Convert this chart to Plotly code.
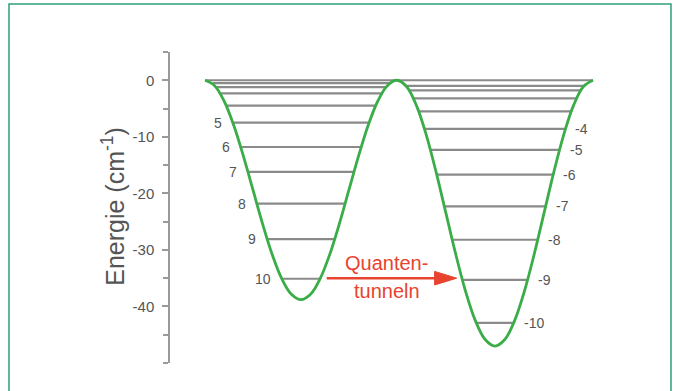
import plotly.graph_objects as go

# ---------------- data ----------------
# torsion coordinate (arbitrary units) and potential energy (cm^-1)
curve_x = [0, 8.9, 17.8, 26.7, 35.6, 44.5, 53.4, 62.3, 71.2, 80.1, 89.0, 97.9, 106.8, 115.7,
           124.6, 133.5, 142.4, 151.3, 160.2, 169.1, 178.0,
           187.1, 196.2, 205.3, 214.4, 223.5, 232.6, 241.7, 250.8, 259.9, 269.0, 278.1, 287.2,
           296.3, 305.4, 314.5, 323.6, 332.7, 341.8, 350.9, 360.0]
curve_e = [0, -0.95, -3.71, -8.00, -13.41, -19.40, -25.39, -30.80, -35.09, -37.85, -38.80,
           -37.85, -35.09, -30.80, -25.39, -19.40, -13.41, -8.00, -3.71, -0.95, 0,
           -1.15, -4.49, -9.69, -16.24, -23.50, -30.76, -37.31, -42.51, -45.85, -47.00,
           -45.85, -42.51, -37.31, -30.76, -23.50, -16.24, -9.69, -4.49, -1.15, 0]

left_levels_e = [0, -0.5, -1.2, -2.3, -4.5, -7.5, -11.8, -16.2, -21.8, -28.1, -35.1]
left_levels_x0 = [0, 7.1, 10.4, 14.2, 19.9, 26.2, 33.2, 40.0, 48.2, 57.9, 71.5]
left_levels_x1 = [178, 170.9, 167.6, 163.8, 158.1, 151.8, 144.8, 138.0, 129.8, 120.1, 106.5]
left_labels = ["", "", "", "", "", "5", "6", "7", "8", "9", "10"]

right_levels_e = [0, -1.0, -1.8, -3.2, -5.5, -8.6, -12.3, -16.7, -22.3, -28.2, -35.3, -42.9]
right_levels_x0 = [178, 186.5, 189.4, 193.3, 198.2, 203.6, 209.1, 215.0, 222.0, 229.3, 238.7, 251.6]
right_levels_x1 = [360, 351.5, 348.6, 344.7, 339.8, 334.4, 328.9, 323.0, 316.0, 308.7, 299.3, 286.4]
right_labels = ["", "", "", "", "", "-4", "-5", "-6", "-7", "-8", "-9", "-10"]

ytick_vals = [0, -10, -20, -30, -40]
ytick_text = ["0", "-10", "-20", "-30", "-40"]

# ---------------- figure ----------------
GREEN = "#3aad48"
GREY = "#8a8a8a"
RED = "#e8432e"
TXT = "#555555"

fig = go.Figure()

lx, ly = [], []
for e, a, b in zip(left_levels_e + right_levels_e,
                   left_levels_x0 + right_levels_x0,
                   left_levels_x1 + right_levels_x1):
    lx += [a, b, None]
    ly += [e, e, None]
fig.add_trace(go.Scatter(x=lx, y=ly, mode="lines",
                         line=dict(color=GREY, width=2.2), hoverinfo="skip"))

fig.add_trace(go.Scatter(x=curve_x, y=curve_e, mode="lines",
                         line=dict(color=GREEN, width=2.8, shape="spline"),
                         hoverinfo="skip"))

ann = []
for e, a, t in zip(left_levels_e, left_levels_x0, left_labels):
    if t:
        ann.append(dict(x=a, y=e, xref="x", yref="y", text=t, showarrow=False,
                        xanchor="right", yanchor="middle", xshift=-9,
                        font=dict(family="Liberation Sans, Arial", size=14, color=TXT)))
for e, b, t in zip(right_levels_e, right_levels_x1, right_labels):
    if t:
        ann.append(dict(x=b, y=e, xref="x", yref="y", text=t, showarrow=False,
                        xanchor="left", yanchor="middle", xshift=8,
                        font=dict(family="Liberation Sans, Arial", size=14, color=TXT)))

# tunnelling text
ann.append(dict(x=168.6, y=-32.3, xref="x", yref="y", text="Quanten-", showarrow=False,
                xanchor="center", yanchor="middle",
                font=dict(family="Liberation Sans, Arial", size=20, color=RED)))
ann.append(dict(x=168.6, y=-37.3, xref="x", yref="y", text="tunneln", showarrow=False,
                xanchor="center", yanchor="middle",
                font=dict(family="Liberation Sans, Arial", size=20, color=RED)))

# axis title
ann.append(dict(x=-0.1267, y=-22.2, xref="paper", yref="y",
                text="Energie (cm<sup>-1</sup>)", showarrow=False, textangle=-90,
                xanchor="center", yanchor="middle",
                font=dict(family="Liberation Sans, Arial", size=25, color=TXT)))

# tunnelling arrow (shaft + filled head)
arrow_y = -35.0
tail_x, head_base_x, tip_x = 112.9, 213.0, 233.5
half_h = 1.2
shapes = [
    dict(type="rect", xref="paper", yref="paper",
         x0=-0.3578, x1=1.1133, y0=-0.2, y1=1.1543,
         line=dict(color="#2f9f78", width=1.5), fillcolor="rgba(0,0,0,0)",
         layer="below"),
    dict(type="line", xref="x", yref="y", x0=tail_x, x1=head_base_x + 2,
         y0=arrow_y, y1=arrow_y, line=dict(color=RED, width=2.5)),
    dict(type="path", xref="x", yref="y",
         path=f"M {head_base_x},{arrow_y + half_h} L {tip_x},{arrow_y} "
              f"L {head_base_x},{arrow_y - half_h} Z",
         fillcolor=RED, line=dict(color=RED, width=1)),
]

fig.update_layout(
    width=677, height=391,
    margin=dict(l=170, r=57, t=52, b=28),
    paper_bgcolor="white", plot_bgcolor="white",
    showlegend=False,
    annotations=ann,
    shapes=shapes,
    xaxis=dict(range=[-32.5, 385], visible=False, fixedrange=True),
    yaxis=dict(range=[-50, 5], showgrid=False, zeroline=False,
               showline=True, linecolor="#9a9a9a", linewidth=1.5,
               ticks="outside", ticklen=6, tickwidth=1.5, tickcolor="#9a9a9a",
               tickvals=ytick_vals, ticktext=ytick_text,
               ticklabelstandoff=5,
               tickfont=dict(family="Liberation Sans, Arial", size=15, color=TXT),
               minor=dict(dtick=5, tick0=0, ticks="outside", ticklen=5,
                          tickwidth=1.5, tickcolor="#9a9a9a", showgrid=False)),
)

fig.write_html("out.html")
